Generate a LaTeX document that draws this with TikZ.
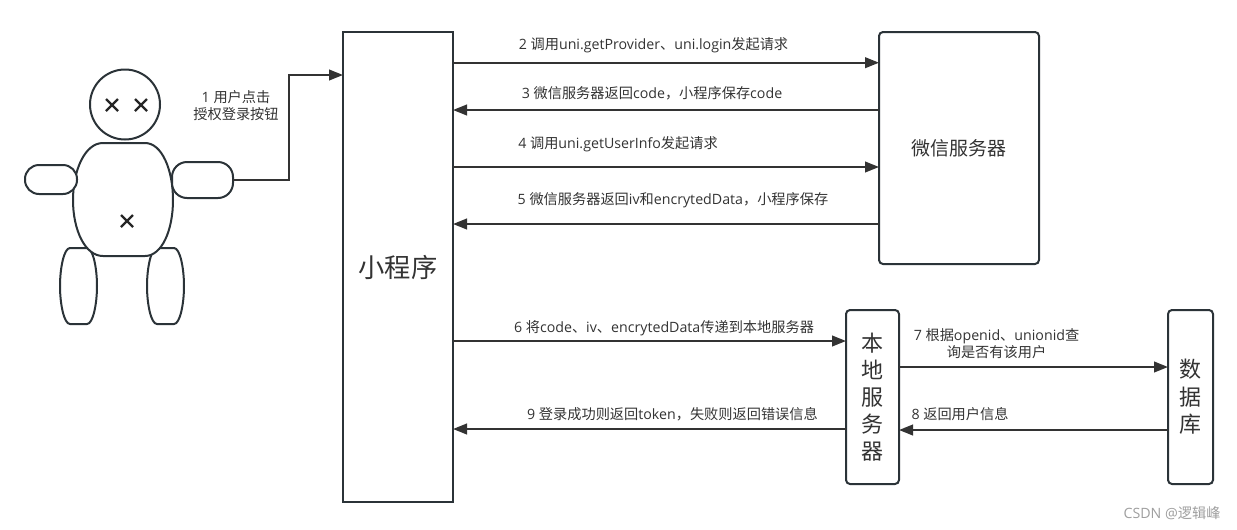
\documentclass[tikz,border=0pt]{standalone}
\usepackage{fontspec}
\setmainfont{Open Sans}
\newfontfamily\cjk{Noto Sans CJK SC}
\usetikzlibrary{arrows.meta}
\newlength\pu \setlength\pu{0.75pt}
\newcommand{\C}[1]{{\cjk #1}}
\definecolor{ink}{HTML}{333333}
\definecolor{edge}{HTML}{2B3338}
\tikzset{
  shapeline/.style={draw=edge,line width=2\pu,fill=white},
  boxnode/.style={shapeline,inner sep=0pt,outer sep=0pt,text=ink,align=center},
  roundbox/.style={boxnode,rounded corners=4\pu},
  armnode/.style={shapeline,inner sep=0pt,outer sep=0pt},
  flow/.style={draw=ink,line width=2\pu,-{Triangle[length=10.5pt,width=8pt]}},
  lbl/.style={text=ink,font=\fontsize{14.2\pu}{17\pu}\selectfont,inner sep=0pt,align=center},
  xmark/.style={draw=black!85,line width=2.4\pu},
}
\begin{document}
\begin{tikzpicture}[x=1\pu,y=-1\pu]
\useasboundingbox (0,0) rectangle (1237,529);
% legs
\draw[shapeline] (70,248) .. controls (64,248) and (60,268) .. (60,286) .. controls (60,304) and (64,324) .. (70,324) -- (87,324) .. controls (93,324) and (97,304) .. (97,286) .. controls (97,268) and (93,248) .. (87,248) -- cycle;
\draw[shapeline] (157,248) .. controls (151,248) and (147,268) .. (147,286) .. controls (147,304) and (151,324) .. (157,324) -- (174,324) .. controls (180,324) and (184,304) .. (184,286) .. controls (184,268) and (180,248) .. (174,248) -- cycle;
% body
\draw[shapeline] (103,143) .. controls (85,143) and (73,170) .. (73,200) .. controls (73,230) and (85,256) .. (103,256) -- (145,256) .. controls (162,256) and (173,230) .. (173,200) .. controls (173,170) and (162,143) .. (145,143) -- cycle;
% head
\node[armnode,circle,minimum size=70\pu] (head) at (125,104.5) {};
% arms
\node[armnode,rounded corners=14\pu,minimum width=52\pu,minimum height=29\pu] (larm) at (51,179.5) {};
\node[armnode,rounded corners=15\pu,minimum width=61\pu,minimum height=36\pu] (rarm) at (202.5,180) {};
% crosses
\draw[xmark] (106,99) -- (118,111) (118,99) -- (106,111);
\draw[xmark] (135,99) -- (147,111) (147,99) -- (135,111);
\draw[xmark] (121,215) -- (133,227) (133,215) -- (121,227);
% boxes
\node[boxnode,minimum width=110\pu,minimum height=470\pu,font=\fontsize{26.3\pu}{30\pu}\selectfont] (mini) at (398,267) {\raisebox{-1pt}{\C{小程序}}};
\node[roundbox,minimum width=160\pu,minimum height=232\pu,font=\fontsize{19\pu}{23\pu}\selectfont] (wechat) at (959,148) {\C{微信服务器}};
\node[roundbox,minimum width=53\pu,minimum height=174\pu,font=\fontsize{22\pu}{27\pu}\selectfont] (local) at (872.5,397) {\C{本}\\\C{地}\\\C{服}\\\C{务}\\\C{器}};
\node[roundbox,minimum width=45\pu,minimum height=174\pu,font=\fontsize{22\pu}{27.5\pu}\selectfont] (db) at (1190.5,397) {\C{数}\\\C{据}\\\C{库}};
% connectors
\coordinate (elbow) at (289,75);
\draw[flow] (rarm.east) -| (elbow) -- (mini.west |- elbow);
\draw[flow] (mini.east |- 0,62.7) -- (wechat.west |- 0,62.7);
\draw[flow] (wechat.west |- 0,110) -- (mini.east |- 0,110);
\draw[flow] (mini.east |- 0,167) -- (wechat.west |- 0,167);
\draw[flow] (wechat.west |- 0,224) -- (mini.east |- 0,224);
\draw[flow] (mini.east |- 0,341) -- (local.west |- 0,341);
\draw[flow] (local.west |- 0,429) -- (mini.east |- 0,429);
\draw[flow] (local.east |- 0,367) -- (db.west |- 0,367);
\draw[flow] (db.west |- 0,430) -- (local.east |- 0,430);
% labels
\node[lbl] (l1) at (236,106) {1 \C{用户点击}\\\C{授权登录按钮}};
\node[lbl] (l2) at (653.5,45.5) {2 \C{调用}uni.getProvider\C{、}uni.login\C{发起请求}};
\node[lbl] (l3) at (652,93) {3 \C{微信服务器返回}code\C{，小程序保存}code};
\node[lbl] (l4) at (618,144) {4 \C{调用}uni.getUserInfo\C{发起请求}};
\node[lbl] (l5) at (673,200.5) {5 \C{微信服务器返回}iv\C{和}encrytedData\C{，小程序保存}};
\node[lbl] (l6) at (664,328.5) {6 \C{将}code\C{、}iv\C{、}encrytedData\C{传递到本地服务器}};
\node[lbl] (l7) at (996.5,344) {7 \C{根据}openid\C{、}unionid\C{查}\\\C{询是否有该用户}};
\node[lbl] (l8) at (960,414) {8 \C{返回用户信息}};
\node[lbl] (l9) at (672.5,414) {9 \C{登录成功则返回}token\C{，失败则返回错误信息}};
\node[lbl,text=black!38] (wm) at (1172,513) {CSDN @\C{逻辑峰}};
\end{tikzpicture}
\end{document}
